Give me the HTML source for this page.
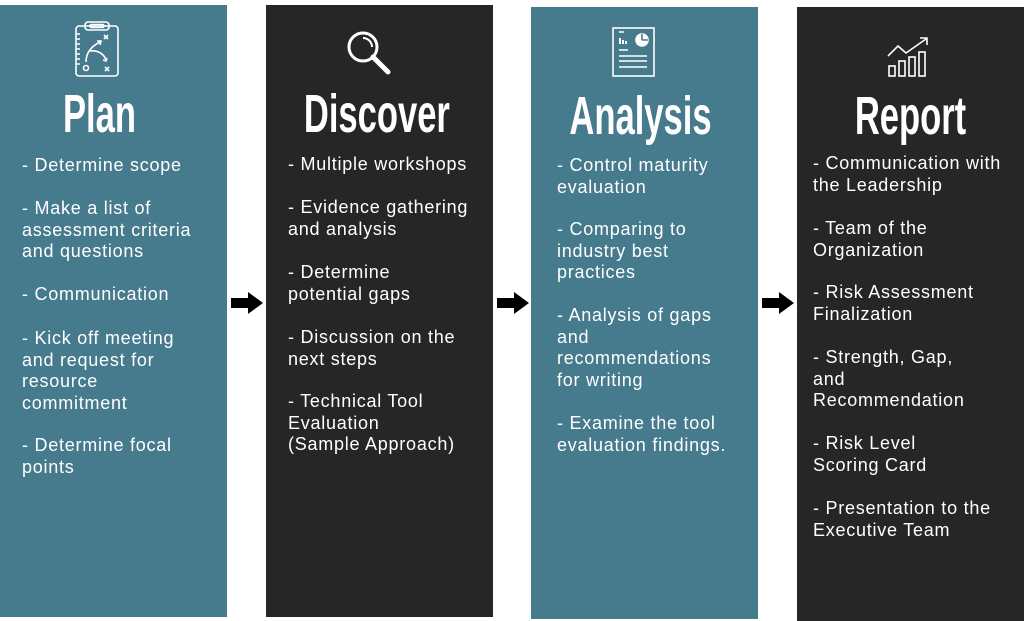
<!DOCTYPE html>
<html><head><meta charset="utf-8">
<style>
body{margin:0;width:1024px;height:621px;background:#fff;position:relative;overflow:hidden;font-family:"Liberation Sans",sans-serif}
.col{position:absolute;width:227px}
.teal{background:#467a8d}
.dark{background:#262626}
.t{position:absolute;left:0;width:227px;text-align:center;color:#fff;font-weight:bold;font-size:54px;line-height:60px;transform:scaleX(0.64);transform-origin:center}
.p{position:absolute;color:#fff;font-size:18px;line-height:21.5px;white-space:nowrap;letter-spacing:0.75px}
.ar{position:absolute;top:292px}
svg{position:absolute}
</style></head><body>
<div class="col teal" style="left:0;top:5px;height:612px"></div>
<div class="col dark" style="left:266px;top:5px;height:612px"></div>
<div class="col teal" style="left:531px;top:7px;height:612px"></div>
<div class="col dark" style="left:797px;top:7px;height:614px"></div>

<svg style="left:74px;top:20px" width="46" height="58" viewBox="0 0 46 58" fill="none" stroke="#fff" stroke-width="1.6">
<rect x="2" y="6" width="42" height="50" rx="3"/><rect x="11" y="2" width="24" height="8" rx="3"/><rect x="16" y="4.5" width="14" height="3" rx="1.5"/>
<path d="M2 14h4M2 19h4M2 24h4M2 29h4M2 34h4M2 39h4M2 44h4"/>
<path d="M12 42 C12 32 18 26 26 22"/><path d="M23 21l4 0l-1 4"/><path d="M16 31 C24 30 30 34 32 40"/><path d="M29 40l3 1l1-3"/>
<circle cx="12" cy="48" r="2.5"/><path d="M30 15l4 4M34 15l-4 4M31 47l4 4M35 47l-4 4"/></svg>
<svg style="left:344px;top:28px" width="50" height="50" viewBox="0 0 50 50" fill="none" stroke="#fff">
<circle cx="19" cy="19" r="14" stroke-width="3"/><path d="M29 29l15 15" stroke-width="5" stroke-linecap="round"/><path d="M19 10a9 9 0 0 1 9 9" stroke-width="2"/></svg>
<svg style="left:612px;top:27px" width="44" height="50" viewBox="0 0 44 50" fill="none" stroke="#fff" stroke-width="1.6">
<rect x="1" y="1" width="41" height="48"/><path d="M7 5h5M7 23h9M7 29h28M7 34h28M7 40h28"/>
<path d="M8 17v-6M11 17v-4M14 17v-3" stroke-width="2"/><circle cx="30" cy="13" r="6" fill="#fff"/><path d="M30 13v-6M30 13h6" stroke="#467a8d"/></svg>
<svg style="left:886px;top:36px" width="46" height="42" viewBox="0 0 46 42" fill="none" stroke="#fff" stroke-width="1.6">
<path d="M2 20l10-10 8 7 20-14"/><path d="M34 2h7v7"/>
<rect x="3" y="30" width="6" height="10"/><rect x="13" y="25" width="6" height="15"/><rect x="23" y="21" width="6" height="19"/><rect x="33" y="16" width="6" height="24"/></svg>

<div class="t" style="left:-14px;top:84px">Plan</div>
<div class="t" style="left:263px;top:84px">Discover</div>
<div class="t" style="left:527px;top:86px">Analysis</div>
<div class="t" style="left:797px;top:86px">Report</div>

<div class="p" style="left:22px;top:155px">- Determine scope</div>
<div class="p" style="left:22px;top:198px">- Make a list of<br>assessment criteria<br>and questions</div>
<div class="p" style="left:22px;top:284px">- Communication</div>
<div class="p" style="left:22px;top:328px">- Kick off meeting<br>and request for<br>resource<br>commitment</div>
<div class="p" style="left:22px;top:435px">- Determine focal<br>points</div>

<div class="p" style="left:288px;top:154px">- Multiple workshops</div>
<div class="p" style="left:288px;top:197px">- Evidence gathering<br>and analysis</div>
<div class="p" style="left:288px;top:262px">- Determine<br>potential gaps</div>
<div class="p" style="left:288px;top:327px">- Discussion on the<br>next steps</div>
<div class="p" style="left:288px;top:391px">- Technical Tool<br>Evaluation<br>(Sample Approach)</div>

<div class="p" style="left:557px;top:155px">- Control maturity<br>evaluation</div>
<div class="p" style="left:557px;top:219px">- Comparing to<br>industry best<br>practices</div>
<div class="p" style="left:557px;top:305px">- Analysis of gaps<br>and<br>recommendations<br>for writing</div>
<div class="p" style="left:557px;top:413px">- Examine the tool<br>evaluation findings.</div>

<div class="p" style="left:813px;top:153px">- Communication with<br>the Leadership</div>
<div class="p" style="left:813px;top:218px">- Team of the<br>Organization</div>
<div class="p" style="left:813px;top:282px">- Risk Assessment<br>Finalization</div>
<div class="p" style="left:813px;top:347px">- Strength, Gap,<br>and<br>Recommendation</div>
<div class="p" style="left:813px;top:433px">- Risk Level<br>Scoring Card</div>
<div class="p" style="left:813px;top:498px">- Presentation to the<br>Executive Team</div>

<svg class="ar" style="left:231px" width="32" height="22" viewBox="0 0 32 22"><path d="M0 6h17V0l15 11-15 11v-6H0z" fill="#000"/></svg>
<svg class="ar" style="left:497px" width="32" height="22" viewBox="0 0 32 22"><path d="M0 6h17V0l15 11-15 11v-6H0z" fill="#000"/></svg>
<svg class="ar" style="left:762px" width="32" height="22" viewBox="0 0 32 22"><path d="M0 6h17V0l15 11-15 11v-6H0z" fill="#000"/></svg>
</body></html>
